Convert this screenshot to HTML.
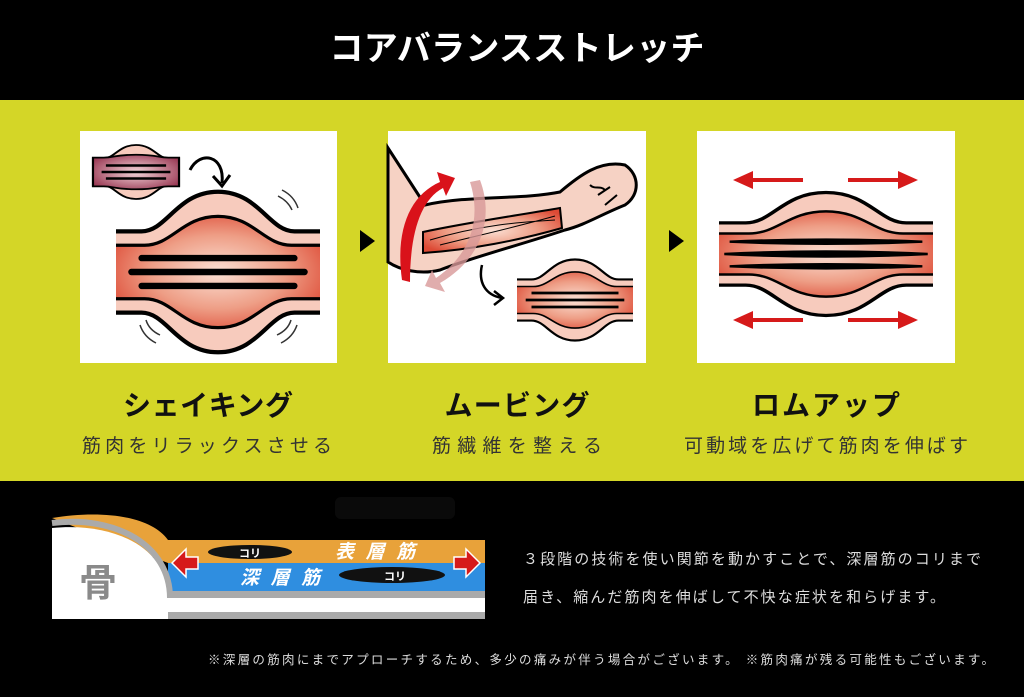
<!DOCTYPE html>
<html><head><meta charset="utf-8"><style>
html,body{margin:0;padding:0;background:#000;}
svg{display:block;}
text{font-family:"Liberation Sans","Noto Sans CJK JP",sans-serif;}
</style></head><body>
<svg width="1024" height="697" viewBox="0 0 1024 697" xmlns="http://www.w3.org/2000/svg">
<defs>
<radialGradient id="rg" cx="0.5" cy="0.5" r="0.6">
<stop offset="0" stop-color="#fbe0d4"/><stop offset="0.55" stop-color="#ee9e86"/><stop offset="1" stop-color="#dd4a35"/></radialGradient>
<radialGradient id="rg2" cx="0.5" cy="0.5" r="0.6">
<stop offset="0" stop-color="#f4d6da"/><stop offset="1" stop-color="#9a3a55"/></radialGradient>
<g id="mus">
<path d="M-100,-38 L-75,-38 C-50,-38 -40,-75 0,-75 C40,-75 50,-38 75,-38 L100,-38 L100,38 L75,38 C50,38 40,75 0,75 C-40,75 -50,38 -75,38 L-100,38 Z" fill="#f7cbbd"/>
<path d="M-100,-38 L-75,-38 C-50,-38 -40,-75 0,-75 C40,-75 50,-38 75,-38 L100,-38 M-100,38 L-75,38 C-50,38 -40,75 0,75 C40,75 50,38 75,38 L100,38" fill="none" stroke="#000" stroke-width="4"/>
<path d="M-100,-25 L-72,-25 C-45,-25 -35,-52 0,-52 C35,-52 45,-25 72,-25 L100,-25 L100,25 L72,25 C45,25 35,52 0,52 C-35,52 -45,25 -72,25 L-100,25 Z" fill="url(#rg)"/>
<path d="M-100,-25 L-72,-25 C-45,-25 -35,-52 0,-52 C35,-52 45,-25 72,-25 L100,-25 M-100,25 L-72,25 C-45,25 -35,52 0,52 C35,52 45,25 72,25 L100,25" fill="none" stroke="#000" stroke-width="3"/>
</g>
<g id="arrR"><path d="M0,-2 L50,-2 L50,-9 L70,0 L50,9 L50,2 L0,2 Z" fill="#d61a1a"/></g>
</defs>
<rect width="1024" height="697" fill="#000"/>
<text x="517" y="60" fill="#fff" font-size="34" font-weight="bold" text-anchor="middle" textLength="375">コアバランスストレッチ</text>
<rect x="0" y="100" width="1024" height="381" fill="#d4d627"/>
<!-- panels -->
<rect x="80" y="131" width="257" height="232" fill="#fff"/>
<rect x="388" y="131" width="258" height="232" fill="#fff"/>
<rect x="697" y="131" width="258" height="232" fill="#fff"/>
<polygon points="360,230 375,241 360,252" fill="#000"/>
<polygon points="669,230 684,241 669,252" fill="#000"/>
<!-- panel1 -->
<g transform="translate(218,272) scale(1.02,1.07)"><use href="#mus"/>
<path d="M-75,-13 L75,-13 M-85,0 L85,0 M-75,13 L75,13" stroke="#000" stroke-width="6" stroke-linecap="round"/></g>
<g transform="translate(136,172) scale(0.43,0.36)">
<path d="M-100,-38 L-75,-38 C-50,-38 -40,-75 0,-75 C40,-75 50,-38 75,-38 L100,-38 L100,38 L75,38 C50,38 40,75 0,75 C-40,75 -50,38 -75,38 L-100,38 Z" fill="#f7cbbd" stroke="#000" stroke-width="5"/>
<path d="M-100,-40 L-75,-40 C-50,-40 -50,-48 0,-48 C50,-48 50,-40 75,-40 L100,-40 L100,40 L75,40 C50,40 50,48 0,48 C-50,48 -50,40 -75,40 L-100,40 Z" fill="url(#rg2)" stroke="#000" stroke-width="5"/>
<path d="M-70,-18 L70,-18 M-80,0 L80,0 M-70,18 L70,18" stroke="#000" stroke-width="7"/></g>
<path d="M190,170 C200,150 225,155 222,183 M213,176 L222,186 L230,175" fill="none" stroke="#000" stroke-width="3"/>
<path d="M282,190 q12,6 16,18 M278,196 q10,5 14,14 M140,325 q4,12 16,18 M146,320 q3,10 14,15 M297,325 q-4,12 -16,18 M291,320 q-3,10 -14,15" fill="none" stroke="#333" stroke-width="1.5"/>
<!-- panel2 -->
<path d="M388,148 L425,205 C470,195 520,200 560,192 C580,175 600,160 625,165 C640,175 640,195 625,205 C600,215 585,225 565,230 C520,245 470,258 440,270 C420,275 400,270 388,262 Z" fill="#f6d2c4" stroke="#000" stroke-width="3"/>
<path d="M423,232 C470,222 520,215 560,208 L562,228 C520,240 470,250 423,253 Z" fill="url(#rg)" stroke="#000" stroke-width="2"/>
<path d="M430,240 C480,225 520,222 555,220 M440,245 C480,235 520,226 555,216" fill="none" stroke="#000" stroke-width="1"/>
<path d="M598,195 l12,-8 M605,205 l12,-10 M590,185 c5,5 10,0 15,5" fill="none" stroke="#000" stroke-width="2"/>
<path d="M402,280 C395,230 410,195 440,182 L437,172 L455,178 L446,196 L443,188 C420,200 410,235 410,282 Z" fill="#d9121a"/>
<path d="M480,180 C495,220 480,260 440,283 L445,292 L425,286 L432,270 L436,278 C470,255 482,220 470,182 Z" fill="#d89999" opacity="0.8"/>
<path d="M482,265 C478,282 485,295 502,298 M494,291 L503,298 L494,305" fill="none" stroke="#000" stroke-width="2.5"/>
<g transform="translate(575,300) scale(0.58,0.54)"><use href="#mus"/>
<path d="M-75,-13 L75,-13 M-85,0 L85,0 M-75,13 L75,13" stroke="#000" stroke-width="5"/></g>
<!-- panel3 -->
<g transform="translate(826,254) scale(1.07,0.82)"><use href="#mus"/>
<path d="M-90,-15 Q0,-20 90,-15 Q0,-10 -90,-15 Z M-95,0 Q0,-6 95,0 Q0,6 -95,0 Z M-90,15 Q0,10 90,15 Q0,20 -90,15 Z" fill="#000" stroke="#000" stroke-width="3"/></g>
<g transform="translate(803,180) scale(-1,1)"><use href="#arrR"/></g>
<g transform="translate(848,180)"><use href="#arrR"/></g>
<g transform="translate(803,320) scale(-1,1)"><use href="#arrR"/></g>
<g transform="translate(848,320)"><use href="#arrR"/></g>
<!-- labels -->
<g font-weight="bold" font-size="28" fill="#111" text-anchor="middle">
<text x="208" y="415" textLength="170">シェイキング</text>
<text x="517" y="415" textLength="145">ムービング</text>
<text x="826" y="415" textLength="148">ロムアップ</text></g>
<g font-size="19" fill="#333" text-anchor="middle">
<text x="207" y="452" textLength="250">筋肉をリラックスさせる</text>
<text x="517" y="452" textLength="170">筋繊維を整える</text>
<text x="826" y="452" textLength="284">可動域を広げて筋肉を伸ばす</text></g>
<!-- bottom diagram -->
<rect x="335" y="497" width="120" height="22" rx="6" fill="#0a0a0a"/>
<path d="M52,518 C100,510 150,515 168,540 L485,540 L485,563 L168,563 Z" fill="#e8a23a"/>
<rect x="168" y="563" width="317" height="28" fill="#2f8ee0"/>
<rect x="168" y="591" width="317" height="7" fill="#aaa"/>
<rect x="168" y="598" width="317" height="14" fill="#fff"/>
<rect x="168" y="612" width="317" height="7" fill="#aaa"/>
<path d="M52,528 C110,522 168,545 168,598 L168,619 L52,619 Z" fill="#fff"/>
<path d="M52,523 C115,515 170,545 170,598" fill="none" stroke="#aaa" stroke-width="6"/>
<text x="98" y="596" font-size="38" font-weight="bold" fill="#8a8a8a" text-anchor="middle">骨</text>
<ellipse cx="250" cy="552" rx="42" ry="7" fill="#111"/>
<text x="250" y="557" font-size="11" fill="#fff" font-weight="bold" text-anchor="middle">コリ</text>
<ellipse cx="392" cy="575" rx="53" ry="8" fill="#111"/>
<text x="395" y="580" font-size="11" fill="#fff" font-weight="bold" text-anchor="middle">コリ</text>
<text x="335" y="558" font-size="19" font-weight="bold" font-style="italic" fill="#fff" textLength="80">表層筋</text>
<text x="240" y="584" font-size="19" font-weight="bold" font-style="italic" fill="#fff" textLength="80">深層筋</text>
<path d="M172,563 L186,549 L186,557 L198,557 L198,569 L186,569 L186,577 Z" fill="#d61a1a" stroke="#fff" stroke-width="1.5"/>
<path d="M480,563 L466,549 L466,557 L454,557 L454,569 L466,569 L466,577 Z" fill="#d61a1a" stroke="#fff" stroke-width="1.5"/>
<g font-size="15" fill="#ddd">
<text x="523" y="564" textLength="458">３段階の技術を使い関節を動かすことで、深層筋のコリまで</text>
<text x="523" y="602" textLength="422">届き、縮んだ筋肉を伸ばして不快な症状を和らげます。</text></g>
<text x="208" y="664" font-size="12.5" fill="#ddd" textLength="786">※深層の筋肉にまでアプローチするため、多少の痛みが伴う場合がございます。 ※筋肉痛が残る可能性もございます。</text>
</svg>
</body></html>
